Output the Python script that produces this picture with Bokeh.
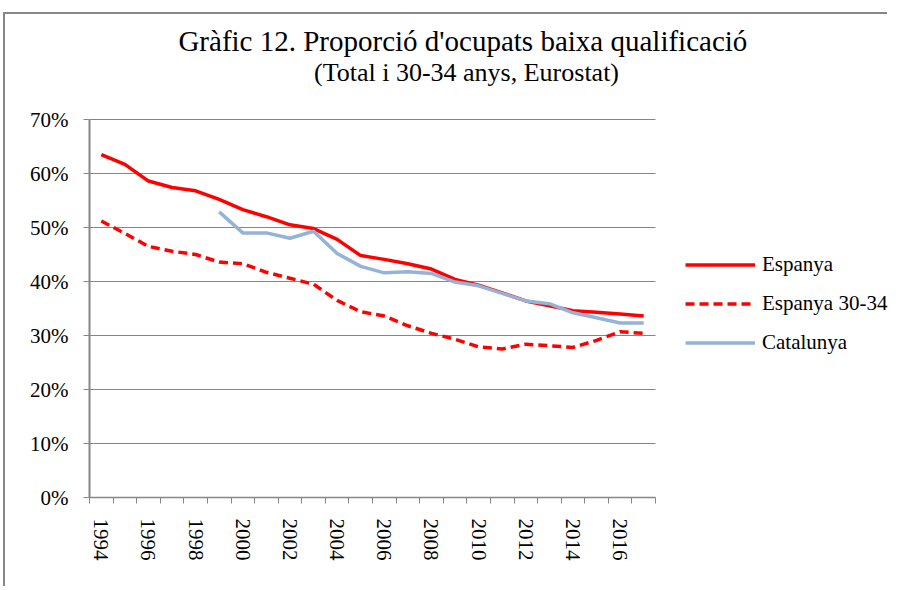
from bokeh.plotting import figure
from bokeh.models import Range1d, FixedTicker, NumeralTickFormatter, Legend, LegendItem, Label
from bokeh.embed import file_html
from bokeh.resources import INLINE

years = list(range(1994, 2018))
espanya = [63.5, 61.7, 58.6, 57.4, 56.8, 55.2, 53.3, 52.0, 50.5, 49.8, 47.8, 44.8,
           44.1, 43.3, 42.3, 40.4, 39.3, 37.9, 36.4, 35.5, 34.6, 34.3, 34.0, 33.6]
espanya_3034 = [51.2, 48.9, 46.5, 45.6, 45.0, 43.6, 43.3, 41.7, 40.6, 39.5, 36.5, 34.4,
                33.6, 31.8, 30.4, 29.3, 27.9, 27.5, 28.4, 28.1, 27.8, 29.1, 30.7, 30.4]
cat_years = list(range(1999, 2018))
catalunya = [52.9, 49.0, 49.0, 48.0, 49.3, 45.2, 42.8, 41.6, 41.8, 41.5, 39.9, 39.2,
             37.8, 36.4, 35.9, 34.2, 33.3, 32.3, 32.3]
label_years = list(range(1994, 2017, 2))
y_ticks = [0, 0.1, 0.2, 0.3, 0.4, 0.5, 0.6, 0.7]
title_text = "Gràfic 12.  Proporció d'ocupats baixa qualificació"
subtitle_text = "(Total i 30-34 anys, Eurostat)"

FONT = "Times New Roman"
GRAY = "#868686"

# layout (pixels)
W, H = 884, 574
ML, MB = 84, 91
FW, FH = W - ML, H - MB          # frame size
PLOT_W, PLOT_H = 566, 378        # size of the data area inside the frame
x0, x1 = years[0] - 0.5, years[-1] + 0.5
y_top = 0.7
x_end = x0 + (x1 - x0) * FW / PLOT_W
y_end = y_top * FH / PLOT_H

p = figure(width=W, height=H, output_backend="svg", toolbar_location=None,
           x_range=Range1d(x0, x_end), y_range=Range1d(0, y_end),
           min_border_left=ML, min_border_right=0, min_border_top=0,
           min_border_bottom=MB)
p.outline_line_color = None
p.background_fill_color = "white"
p.border_fill_color = "white"

# axes
p.xaxis.bounds = (x0, x1)
p.xaxis.ticker = FixedTicker(ticks=label_years,
                             minor_ticks=[y - 0.5 for y in range(1994, 2019)])
p.xaxis.major_tick_line_color = None
p.xaxis.minor_tick_line_color = GRAY
p.xaxis.minor_tick_out = 6
p.xaxis.minor_tick_in = 0
p.xaxis.major_label_orientation = "vertical"
p.xaxis.major_label_text_font = FONT
p.xaxis.major_label_text_font_size = "21px"
p.xaxis.major_label_text_color = "black"
p.xaxis.major_label_standoff = 15
p.xaxis.axis_line_color = GRAY
p.xaxis.axis_line_width = 1.5

p.yaxis.bounds = (0, y_top)
p.yaxis.ticker = FixedTicker(ticks=y_ticks, minor_ticks=[])
p.yaxis.formatter = NumeralTickFormatter(format="0%")
p.yaxis.major_tick_line_color = GRAY
p.yaxis.major_tick_out = 6
p.yaxis.major_tick_in = 0
p.yaxis.major_label_text_font = FONT
p.yaxis.major_label_text_font_size = "21px"
p.yaxis.major_label_text_color = "black"
p.yaxis.major_label_standoff = 15
p.yaxis.axis_line_color = GRAY
p.yaxis.axis_line_width = 2

p.xgrid.grid_line_color = None
p.ygrid.ticker = FixedTicker(ticks=y_ticks)
p.ygrid.cross_bounds = (x0, x1)
p.ygrid.grid_line_color = GRAY
p.ygrid.grid_line_width = 1

r1 = p.line(years, [v / 100 for v in espanya], line_color="#FF0000", line_width=3.5)
r2 = p.line(years, [v / 100 for v in espanya_3034], line_color="#FF0000", line_width=3.5,
            line_dash="9 5")
r3 = p.line(cat_years, [v / 100 for v in catalunya], line_color="#95B3D7", line_width=3.5)

legend = Legend(items=[LegendItem(label="Espanya", renderers=[r1]),
                       LegendItem(label="Espanya 30-34", renderers=[r2]),
                       LegendItem(label="Catalunya", renderers=[r3])],
                location=(596, 142), padding=0, margin=0, spacing=14,
                glyph_width=70, glyph_height=25, label_standoff=7,
                label_text_font=FONT, label_text_font_size="21px",
                label_text_color="black",
                border_line_color=None, background_fill_alpha=0)
p.add_layout(legend, "center")

p.add_layout(Label(x=377, y=457, x_units="screen", y_units="screen", text=title_text,
                   text_align="center", text_baseline="middle", text_font=FONT,
                   text_font_size="29px", text_color="black"))
p.add_layout(Label(x=377, y=425, x_units="screen", y_units="screen", text=subtitle_text,
                   text_align="center", text_baseline="middle", text_font=FONT,
                   text_font_size="26px", text_color="black"))

p.styles = {"border-left": "2px solid #888888", "border-top": "2px solid #888888",
            "margin-left": "3px", "margin-top": "12px"}

open("out.html", "w").write(file_html(p, INLINE))
